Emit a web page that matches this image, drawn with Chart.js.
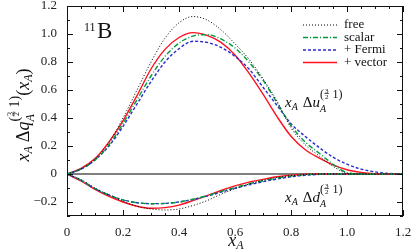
<!DOCTYPE html>
<html>
<head>
<meta charset="utf-8">
<script src="https://cdn.jsdelivr.net/npm/chart.js@4/dist/chart.umd.min.js"></script>
<style>
  html, body { margin: 0; padding: 0; background: #fff; }
  canvas { display: block; }
</style>
</head>
<body>
<canvas id="myChart" width="415" height="252"></canvas>
<script>
// x_A grid
const xA = [0, 0.05, 0.1, 0.15, 0.2, 0.25, 0.3, 0.35, 0.4, 0.45, 0.5, 0.55, 0.6,
            0.65, 0.7, 0.75, 0.8, 0.85, 0.9, 0.95, 1.0, 1.05, 1.1, 1.15, 1.2];

// x_A Δu curves
const uFree   = [0, 0.035, 0.105, 0.225, 0.40, 0.60, 0.80, 0.97, 1.08, 1.125, 1.10, 1.03, 0.93,
                 0.82, 0.68, 0.52, 0.33, 0.21, 0.13, 0.055, 0.005, 0, 0, 0, 0];
const uScalar = [0, 0.035, 0.10, 0.21, 0.36, 0.53, 0.70, 0.84, 0.935, 0.985, 0.995, 0.965, 0.90,
                 0.80, 0.67, 0.51, 0.345, 0.23, 0.15, 0.07, 0.01, 0, 0, 0, 0];
const uFermi  = [0, 0.035, 0.10, 0.20, 0.34, 0.50, 0.66, 0.80, 0.895, 0.948, 0.94, 0.905, 0.84,
                 0.75, 0.62, 0.49, 0.36, 0.27, 0.19, 0.12, 0.07, 0.035, 0.015, 0.004, 0];
const uVector = [0, 0.04, 0.11, 0.23, 0.38, 0.56, 0.75, 0.89, 0.975, 1.01, 0.99, 0.94, 0.85,
                 0.72, 0.57, 0.41, 0.27, 0.175, 0.115, 0.065, 0.03, 0.012, 0.003, 0, 0];

// x_A Δd curves
const dFree   = [0, -0.04, -0.10, -0.15, -0.195, -0.23, -0.25, -0.257, -0.25, -0.225, -0.19, -0.145, -0.105,
                 -0.072, -0.045, -0.025, -0.012, -0.004, 0, 0, 0, 0, 0, 0, 0];
const dScalar = [0, -0.045, -0.105, -0.15, -0.185, -0.205, -0.212, -0.21, -0.2, -0.18, -0.155, -0.125, -0.097,
                 -0.07, -0.048, -0.03, -0.015, -0.005, -0.001, 0, 0, 0, 0, 0, 0];
const dFermi  = [0, -0.045, -0.105, -0.15, -0.185, -0.205, -0.212, -0.21, -0.2, -0.182, -0.158, -0.13, -0.102,
                 -0.078, -0.055, -0.036, -0.02, -0.009, -0.003, 0, 0, 0, 0, 0, 0];
const dVector = [0, -0.05, -0.11, -0.16, -0.2, -0.23, -0.245, -0.24, -0.222, -0.19, -0.155, -0.118, -0.085,
                 -0.058, -0.038, -0.02, -0.008, -0.002, 0, 0, 0, 0, 0, 0, 0];

const seriesNames = ['free', 'scalar', '+ Fermi', '+ vector'];
const xTickLabels = ['0', '0.2', '0.4', '0.6', '0.8', '1.0', '1.2'];
const yTickLabels = ['\u22120.2', '0', '0.2', '0.4', '0.6', '0.8', '1.0', '1.2'];

const serif = '"Liberation Serif", "DejaVu Serif", serif';

const styles = [
    { color: '#000000', width: 1,   dash: [1, 2] },
    { color: '#009a3c', width: 1.4, dash: [5, 2, 1, 2] },
    { color: '#2a2ad0', width: 1.4, dash: [3, 2] },
    { color: '#ff1020', width: 1.4, dash: [] }
];

function pts(ys) {
    return xA.map((x, i) => ({ x: x, y: ys[i] }));
}

function mkSet(label, ys, k) {
    return {
        label: label,
        data: pts(ys),
        borderColor: styles[k].color,
        borderWidth: styles[k].width,
        borderDash: styles[k].dash,
        pointRadius: 0,
        fill: false,
        cubicInterpolationMode: 'monotone'
    };
}

const uSets = [uFree, uScalar, uFermi, uVector];
const dSets = [dFree, dScalar, dFermi, dVector];
const datasets = [];
uSets.forEach((s, k) => datasets.push(mkSet(seriesNames[k], s, k)));
dSets.forEach((s, k) => datasets.push(mkSet(seriesNames[k] + ' d', s, k)));

function near(v, step) {
    return Math.abs(v / step - Math.round(v / step)) < 1e-6;
}

// draw a list of text pieces, returns width
function drawMath(ctx, x, y, toks, draw) {
    let cx = x;
    toks.forEach(tk => {
        ctx.font = tk.f;
        if (tk.frac) {
            const w = Math.max(ctx.measureText(tk.frac[0]).width, ctx.measureText(tk.frac[1]).width);
            if (draw) {
                ctx.textAlign = 'center';
                ctx.fillText(tk.frac[0], cx + w / 2 + 1, y + tk.dy - tk.g);
                ctx.fillText(tk.frac[1], cx + w / 2 + 1, y + tk.dy + tk.g + 3);
                ctx.fillRect(cx + 0.5, y + tk.dy - 1.2, w + 1, 0.7);
            }
            cx += w + 2;
        } else {
            ctx.textAlign = 'left';
            if (draw) ctx.fillText(tk.t, cx, y + (tk.dy || 0));
            if (!tk.stay) cx += ctx.measureText(tk.t).width + (tk.sp || 0);
        }
    });
    return cx - x;
}

function supTok(s, dy) {
    return [
        { t: '(', f: s + 'px ' + serif, dy: dy },
        { frac: ['3', '2'], f: Math.round(s * 0.55) + 'px ' + serif, dy: dy - s * 0.3, g: 1.5 },
        { t: ' 1)', f: s + 'px ' + serif, dy: dy }
    ];
}

function distLabel(q) {
    return [
        { t: 'x', f: 'italic 15px ' + serif },
        { t: 'A', f: 'italic 10px ' + serif, dy: 3, sp: 5 },
        { t: '\u0394', f: '15px ' + serif },
        { t: q, f: 'italic 15px ' + serif },
        { t: 'A', f: 'italic 10px ' + serif, dy: 5, stay: true }
    ].concat(supTok(12, -9));
}

const decor = {
    id: 'decor',
    beforeDatasetsDraw(chart) {
        const ctx = chart.ctx;
        const a = chart.chartArea;
        const y0 = chart.scales.y.getPixelForValue(0);
        ctx.save();
        ctx.strokeStyle = '#555';
        ctx.lineWidth = 1.4;
        ctx.beginPath();
        ctx.moveTo(a.left, y0);
        ctx.lineTo(a.right, y0);
        ctx.stroke();
        ctx.restore();
    },
    afterDraw(chart) {
        const ctx = chart.ctx;
        const a = chart.chartArea;
        const sx = chart.scales.x, sy = chart.scales.y;
        ctx.save();
        ctx.strokeStyle = '#111';
        ctx.lineWidth = 1;
        ctx.strokeRect(a.left + 0.5, a.top + 0.5, a.right - a.left - 1, a.bottom - a.top - 1);

        // inward ticks on all four sides
        ctx.beginPath();
        sx.ticks.forEach(t => {
            const px = Math.round(sx.getPixelForValue(t.value)) + 0.5;
            const len = near(t.value, 0.2) ? 6 : 3;
            ctx.moveTo(px, a.bottom); ctx.lineTo(px, a.bottom - len);
            ctx.moveTo(px, a.top); ctx.lineTo(px, a.top + len);
        });
        sy.ticks.forEach(t => {
            const py = Math.round(sy.getPixelForValue(t.value)) + 0.5;
            const len = near(t.value, 0.2) ? 6 : 3;
            ctx.moveTo(a.left, py); ctx.lineTo(a.left + len, py);
            ctx.moveTo(a.right, py); ctx.lineTo(a.right - len, py);
        });
        ctx.stroke();

        // legend
        ctx.font = '13px ' + serif;
        ctx.textBaseline = 'middle';
        seriesNames.forEach((name, k) => {
            const ly = 25 + k * 12.5;
            ctx.strokeStyle = styles[k].color;
            ctx.lineWidth = styles[k].width;
            ctx.setLineDash(styles[k].dash);
            ctx.beginPath();
            ctx.moveTo(303, ly); ctx.lineTo(337, ly);
            ctx.stroke();
            ctx.setLineDash([]);
            ctx.fillStyle = '#111';
            ctx.textAlign = 'left';
            ctx.fillText(name, 344, ly);
        });

        ctx.textBaseline = 'alphabetic';
        ctx.fillStyle = '#111';

        // nucleus
        ctx.font = '12px ' + serif;
        ctx.textAlign = 'left';
        ctx.fillText('11', 84, 31);
        ctx.font = '23px ' + serif;
        ctx.fillText('B', 97, 38);

        // curve labels
        drawMath(ctx, 285, 107, distLabel('u'), true);
        drawMath(ctx, 285, 202, distLabel('d'), true);

        // x title
        const xt = [
            { t: 'x', f: 'italic 18px ' + serif },
            { t: 'A', f: 'italic 12px ' + serif, dy: 3 }
        ];
        const wx = drawMath(ctx, 0, 0, xt, false);
        drawMath(ctx, 236 - wx / 2, 246, xt, true);

        // y title
        const yt = [
            { t: 'x', f: 'italic 18px ' + serif },
            { t: 'A', f: 'italic 12px ' + serif, dy: 3, sp: 4 },
            { t: '\u0394', f: '18px ' + serif },
            { t: 'q', f: 'italic 18px ' + serif },
            { t: 'A', f: 'italic 12px ' + serif, dy: 5, stay: true }
        ].concat(supTok(14, -10)).concat([
            { t: '(', f: '18px ' + serif },
            { t: 'x', f: 'italic 18px ' + serif },
            { t: 'A', f: 'italic 12px ' + serif, dy: 3 },
            { t: ')', f: '18px ' + serif }
        ]);
        const wy = drawMath(ctx, 0, 0, yt, false);
        ctx.translate(29, 115);
        ctx.rotate(-Math.PI / 2);
        drawMath(ctx, -wy / 2, 0, yt, true);
        ctx.restore();
    }
};

new Chart('myChart', {
    type: 'line',
    data: { datasets: datasets },
    options: {
        responsive: false,
        animation: false,
        devicePixelRatio: 1,
        layout: { padding: { top: 6, right: 12, left: 0, bottom: 0 } },
        plugins: {
            legend: { display: false },
            tooltip: { enabled: false }
        },
        scales: {
            x: {
                type: 'linear',
                min: 0,
                max: 1.2,
                grid: { display: false, drawTicks: false },
                border: { display: false },
                afterFit: function (s) {
                    s.height = 36;
                    s.paddingLeft = 0;
                    s.paddingRight = 0;
                },
                ticks: {
                    stepSize: 0.05,
                    autoSkip: false,
                    maxRotation: 0,
                    padding: 9,
                    color: '#222',
                    font: { family: serif, size: 13 },
                    callback: function (v) {
                        if (!near(v, 0.2)) return '';
                        return xTickLabels[Math.round(v / 0.2)];
                    }
                }
            },
            y: {
                type: 'linear',
                min: -0.3,
                max: 1.2,
                grid: { display: false, drawTicks: false },
                border: { display: false },
                afterFit: function (s) {
                    s.width = 67;
                    s.paddingTop = 0;
                    s.paddingBottom = 0;
                },
                ticks: {
                    stepSize: 0.1,
                    autoSkip: false,
                    padding: 10,
                    color: '#222',
                    font: { family: serif, size: 13 },
                    callback: function (v) {
                        if (!near(v, 0.2) || v < -0.25) return '';
                        return yTickLabels[Math.round(v / 0.2) + 1];
                    }
                }
            }
        }
    },
    plugins: [decor]
});
</script>
</body>
</html>
